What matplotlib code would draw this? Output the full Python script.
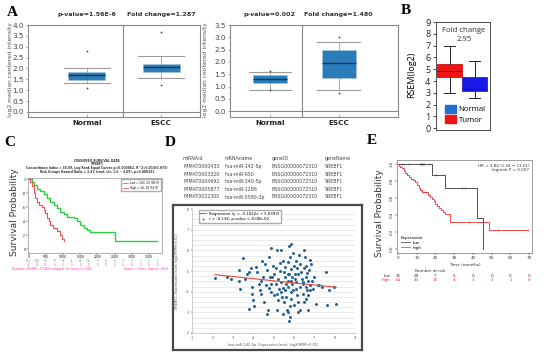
import numpy as np
import matplotlib
matplotlib.use("Agg")
import matplotlib.pyplot as plt
from matplotlib.lines import Line2D
from matplotlib.patches import Patch

W, H = 550, 356

# ---------------- data ----------------
# A: Oncomine box plots
a_groups = ["Normal", "ESCC"]
a1_q1 = [1.45, 1.82]
a1_med = [1.70, 2.05]
a1_q3 = [1.85, 2.22]
a1_lo = [1.32, 1.57]
a1_hi = [2.00, 2.57]
a1_out = [[2.82, 1.10], [3.70, 1.25]]
a1_titles = ["p-value=1.56E-6", "Fold change=1.287"]

a2_q1 = [1.15, 1.37]
a2_med = [1.30, 1.97]
a2_q3 = [1.47, 2.50]
a2_lo = [0.87, 0.87]
a2_hi = [1.60, 2.80]
a2_out = [[1.65, 0.85], [3.00, 0.75]]
a2_titles = ["p-value=0.002", "Fold change=1.480"]

# B: RSEM box plot
b_groups = ["Tumor", "Normal"]
b_q1 = [4.35, 3.15]
b_med = [4.85, 3.35]
b_q3 = [5.40, 4.30]
b_lo = [3.0, 2.6]
b_hi = [7.0, 5.7]

# C: SurvExpress Kaplan-Meier
c_low_t = [0, 97, 146, 243, 340, 437, 534, 631, 728, 825, 922, 1019, 1117, 1311, 1408, 1505, 1602, 1699, 1796, 2524, 3738]
c_low_s = [1.0, 0.97, 0.92, 0.87, 0.83, 0.79, 0.73, 0.68, 0.64, 0.59, 0.54, 0.50, 0.47, 0.45, 0.40, 0.35, 0.31, 0.28, 0.245, 0.127, 0.127]
c_high_t = [0, 49, 97, 146, 194, 243, 291, 388, 437, 485, 534, 583, 631, 709, 825, 922, 971, 1019]
c_high_s = [1.0, 0.97, 0.90, 0.80, 0.73, 0.68, 0.64, 0.61, 0.57, 0.52, 0.45, 0.40, 0.35, 0.31, 0.26, 0.21, 0.15, 0.12]
c_risk_t = [0, 250, 500, 750, 1000, 1250, 1500, 1750, 2000, 2250, 2500, 2750, 3000, 3250, 3500, 3750]
c_risk_low = [136, 120, 98, 78, 57, 41, 28, 16, 9, 8, 6, 4, 3, 2, 1, 1]
c_risk_high = [34, 20, 11, 6, 2, 0, 0, 0, 0, 0, 0, 0, 0, 0, 0, 0]

# D: miRNA table and correlation scatter
d_mirna_id = ["MIMAT0000433", "MIMAT0003320", "MIMAT0004692", "MIMAT0005877", "MIMAT0022300"]
d_mirna_name = ["hsa-miR-142-5p", "hsa-miR-650", "hsa-miR-340-5p", "hsa-miR-1286", "hsa-miR-5590-3p"]
d_gene_id = ["ENSG00000072310"] * 5
d_gene_name = ["SREBF1"] * 5
d_pts_px = [(75, 142), (110, 138), (122, 145), (147, 152), (150, 175), (157, 83), (145, 118), (175, 125),
            (170, 130), (183, 112), (195, 108), (215, 92), (210, 150), (185, 190), (185, 170), (188, 210),
            (175, 235), (190, 228), (210, 190), (208, 180), (220, 215), (222, 100), (230, 118), (235, 80),
            (240, 52), (258, 57), (272, 57), (238, 140), (240, 160), (245, 138), (235, 172), (240, 185),
            (232, 240), (230, 250), (250, 130), (255, 112), (262, 145), (262, 210), (265, 175), (268, 97),
            (270, 185), (275, 200), (278, 92), (282, 138), (285, 160), (283, 180), (290, 95), (293, 45),
            (302, 38), (298, 80), (295, 130), (292, 150), (290, 170), (285, 200), (280, 215), (288, 238),
            (290, 245), (296, 260), (295, 272), (300, 115), (305, 140), (305, 160), (302, 185), (300, 205),
            (308, 68), (310, 105), (312, 130), (315, 155), (315, 175), (318, 195), (320, 215), (325, 72),
            (328, 100), (328, 170), (330, 125), (332, 145), (335, 160), (335, 190), (338, 215), (340, 57),
            (342, 80), (345, 105), (345, 140), (345, 170), (348, 180), (350, 150), (350, 195), (352, 238),
            (355, 118), (358, 87), (360, 100), (358, 165), (362, 152), (365, 175), (368, 140), (375, 220),
            (380, 165), (385, 165), (393, 170), (405, 125), (412, 180), (428, 168), (435, 220), (408, 225),
            (298, 228), (326, 240), (310, 225), (335, 155), (322, 130), (300, 150), (318, 112), (280, 125),
            (255, 160), (268, 120), (250, 195), (225, 165), (218, 140), (200, 125), (205, 160), (165, 145),
            (348, 128), (340, 112), (270, 155), (313, 145), (290, 130), (283, 110), (306, 178), (345, 205),
            (260, 240), (278, 250), (320, 245), (357, 180), (260, 190), (276, 172), (246, 105), (315, 90)]
# values (3x crop), converted to the axis units
d_x = [round(0.901 + p[0] / 60.6, 2) for p in d_pts_px]
d_y = [round(6.942 - p[1] / 62.4, 2) for p in d_pts_px]
d_slope, d_icpt = -0.1022, 5.0393

# E: KM plotter
e_low_t = [0, 18, 25, 42, 45.5]
e_low_s = [1.0, 0.87, 0.72, 0.36, 0.0]
e_low_cens_t = [2.3, 5.8, 11.6, 12.2, 12.8, 13.3, 13.8, 16.4, 20.5, 34, 35.8]
e_low_cens_s = [1.0, 1.0, 1.0, 1.0, 1.0, 1.0, 1.0, 1.0, 0.87, 0.72, 0.72]
e_high_t = [0, 0.5, 1, 2, 3, 4, 5, 6, 7, 8, 9, 10, 11, 12, 13, 16, 17, 18, 19, 20, 21, 22, 23, 24, 25, 28, 48.5, 69.5]
e_high_s = [1.0, 0.98, 0.97, 0.95, 0.92, 0.90, 0.87, 0.85, 0.83, 0.81, 0.79, 0.75, 0.72, 0.69, 0.67, 0.64,
            0.61, 0.59, 0.56, 0.53, 0.51, 0.48, 0.46, 0.44, 0.41, 0.32, 0.22, 0.22]
e_high_cens_t = [12.4, 12.9, 13.5, 14.2, 15.0, 16.4, 38, 53.5, 69.5]
e_high_cens_s = [0.69, 0.69, 0.67, 0.67, 0.67, 0.64, 0.32, 0.22, 0.22]
e_risk_t = [0, 10, 20, 30, 40, 50, 60, 70]
e_risk_low = [31, 29, 7, 5, 0, 0, 0, 0]
e_risk_high = [64, 43, 15, 4, 3, 2, 1, 0]

# ---------------- helpers ----------------
fig = plt.figure(figsize=(W / 100, H / 100), dpi=100)


def px_axes(x0, y0, x1, y1):
    return fig.add_axes([x0 / W, 1 - y1 / H, (x1 - x0) / W, (y1 - y0) / H])


def ftext(x, y, s, **kw):
    fig.text(x / W, 1 - y / H, s, **kw)


def panel_label(x, y, s):
    ftext(x, y, s, fontsize=11, fontweight='bold', family='Liberation Serif', ha='center', va='center')


def onco(rect, q1, med, q3, lo, hi, out, ytop, titles, xlim, div, ylab_x):
    ax = px_axes(*rect)
    stats = [dict(q1=q1[i], med=med[i], q3=q3[i], whislo=lo[i], whishi=hi[i], fliers=out[i]) for i in range(2)]
    ax.bxp(stats, positions=[0, 1], widths=0.5, capwidths=0.62, patch_artist=True, manage_ticks=False,
           boxprops=dict(facecolor='#2a7db8', edgecolor='#a9c3d6', lw=0.5),
           medianprops=dict(color='#0b3a63', lw=1.0),
           whiskerprops=dict(color='#9a9a9a', lw=0.6),
           capprops=dict(color='#9a9a9a', lw=0.8),
           flierprops=dict(marker='o', ms=1.3, mfc='#444', mec='none'))
    ax.axhline(0, color='#888', lw=0.8)
    ax.axvline(div, color='#888', lw=0.8)
    ax.set_xlim(xlim)
    ax.set_ylim(-0.23, ytop)
    yt = np.arange(0, ytop + 0.01, 0.5)
    ax.set_yticks(yt)
    ax.set_yticklabels([f"{v:.1f}" for v in yt], fontsize=5.2, color='#444')
    ax.set_xticks([0, 1])
    ax.set_xticklabels(a_groups, fontsize=5.2, fontweight='bold', color='#222')
    ax.tick_params(axis='y', length=1.5, width=0.5, color='#888', pad=1.5)
    ax.tick_params(axis='x', direction='in', length=2, width=0.5, color='#888', pad=2)
    for s in ax.spines.values():
        s.set_color('#888')
        s.set_linewidth(0.8)
    for i, t in enumerate(titles):
        ax.text(i, 1.11, t, transform=ax.get_xaxis_transform(), ha='center', va='center',
                fontsize=4.6, fontweight='bold', color='#333')
    ftext(ylab_x, 70, "log2 median centered intensity", rotation=90, fontsize=4.3, color='#555',
          ha='center', va='center')
    return ax


# ---------------- panel A ----------------
panel_label(12, 13, "A")
onco((28, 25, 200, 117), a1_q1, a1_med, a1_q3, a1_lo, a1_hi, a1_out, 4.0, a1_titles,
     (-0.79, 1.52), 0.48, 11)
onco((230, 25, 398, 117), a2_q1, a2_med, a2_q3, a2_lo, a2_hi, a2_out, 3.5, a2_titles,
     (-0.58, 1.86), 0.46, 205)

# ---------------- panel B ----------------
panel_label(406, 10, "B")
axb = px_axes(436, 22, 490, 130)
b_stats = [dict(q1=b_q1[i], med=b_med[i], q3=b_q3[i], whislo=b_lo[i], whishi=b_hi[i], fliers=[])
           for i in range(2)]
bp = axb.bxp(b_stats, positions=[0, 1], widths=1.0, capwidths=0.45, patch_artist=True, manage_ticks=False,
             medianprops=dict(color='#222', lw=0.7),
             whiskerprops=dict(color='#222', lw=0.7), capprops=dict(color='#222', lw=0.7))
for patch, fc, ec in zip(bp['boxes'], ['#f01414', '#1a1ae6'], ['#c00000', '#1010b0']):
    patch.set_facecolor(fc)
    patch.set_edgecolor(ec)
    patch.set_linewidth(0.5)
axb.set_xlim(-0.54, 1.62)
axb.set_ylim(-0.15, 8.95)
axb.set_yticks(range(10))
axb.set_yticklabels([str(v) for v in range(10)], fontsize=6.5, family='Open Sans', color='#222')
axb.set_xticks([])
axb.tick_params(axis='y', length=2.5, width=0.5, pad=1.5)
for s in axb.spines.values():
    s.set_linewidth(0.6)
    s.set_color('#333')
axb.text(0.52, 0.95, "Fold change\n2.95", transform=axb.transAxes, ha='center', va='top',
         fontsize=5.6, family='Open Sans', color='#333', linespacing=1.3)
axb.legend([Patch(facecolor='#1f6fce', edgecolor='#1f6fce'), Patch(facecolor='#f01414', edgecolor='#f01414')],
           ["Normal", "Tumor"], loc='lower left', bbox_to_anchor=(0.06, 0.0), frameon=False,
           prop=dict(family='Open Sans', size=5.6), handlelength=1.3, handleheight=1.1,
           handletextpad=0.4, labelspacing=0.25, borderpad=0.3)
ftext(412, 75, "RSEM(log2)", rotation=90, fontsize=6.5, family='Open Sans', ha='center', va='center')

# ---------------- panel C ----------------
panel_label(10, 143, "C")
axc = px_axes(28, 178, 162, 253)
axc.step(c_low_t, c_low_s, where='post', color='#2ecc40', lw=1.0)
axc.step(c_high_t, c_high_s, where='post', color='#f05050', lw=0.8)
axc.set_xlim(-20, 3880)
axc.set_ylim(-0.05, 1.02)
axc.set_xticks(range(0, 3501, 500))
axc.set_xticklabels([str(v) for v in range(0, 3501, 500)], fontsize=2.2)
axc.set_yticks([0, 0.2, 0.4, 0.6, 0.8, 1.0])
axc.set_yticklabels(["0", ".2", ".4", ".6", ".8", "1"], fontsize=2.2)
axc.tick_params(length=1.2, width=0.3, pad=0.6)
for s in axc.spines.values():
    s.set_linewidth(0.4)
    s.set_color('#777')
axc.legend([Line2D([], [], color='#2ecc40', lw=0.6), Line2D([], [], color='#f05050', lw=0.6)],
           ["Low = 143, 23 (83.9)", "High = 34, 18 (52.9)"], loc='upper right', fontsize=2,
           frameon=True, edgecolor='#999', fancybox=False, handlelength=2, borderpad=0.4)
tr = axc.get_xaxis_transform()
for t, lo, hi in zip(c_risk_t, c_risk_low, c_risk_high):
    axc.text(t, -0.105, str(lo), transform=tr, fontsize=2.0, color='#2ecc40', ha='center', va='center')
    axc.text(t, -0.16, str(hi), transform=tr, fontsize=2.0, color='#f05050', ha='center', va='center')
ctitle = ["CENSORED SURVIVAL DATA", "SREBP1",
          "Concordance Index = 38.09, Log Rank Equal Curves p=0.000862, R^2=0.013(0.973)",
          "Risk Groups Hazard Ratio = 2.42 (conf. int. 1.5 ~ 4.09), p=0.000332"]
for i, s in enumerate(ctitle):
    ftext(97, 160.5 + 3.8 * i, s, fontsize=2.2, fontweight='bold', ha='center', va='center', color='#333')
ftext(12, 269, "Database: SREBF1 - TCGA Esophageal Carcinoma (n=184)", fontsize=2.0, color='#ff33cc', va='center')
ftext(168, 269, "Lowest = Green, Highest = Red", fontsize=2.0, color='#ff33cc', va='center', ha='right')
ftext(15, 212, "Survival Probability", rotation=90, fontsize=6.5, color='#333', ha='center', va='center')

# ---------------- panel D ----------------
panel_label(170, 143, "D")
cols_x = [183, 225, 272, 325]
for x, s in zip(cols_x, ["miRNAid", "mRNAname", "geneID", "geneName"]):
    ftext(x, 159, s, fontsize=3.4, color='#444', va='center')
for r in range(len(d_mirna_id)):
    y = 166.6 + 7.6 * r
    for x, s in zip(cols_x, [d_mirna_id[r], d_mirna_name[r], d_gene_id[r], d_gene_name[r]]):
        ftext(x, y, s, fontsize=3.4, color='#444', va='center')

frame = px_axes(173, 205, 362, 350)
frame.set_xticks([])
frame.set_yticks([])
for s in frame.spines.values():
    s.set_linewidth(1.6)
    s.set_color('#4a4a4a')

axd = px_axes(192, 208, 355, 333)
axd.set_xlim(1, 9)
axd.set_ylim(2, 8.05)
for yy in np.arange(2.25, 8.0, 0.25):
    axd.axhline(yy, color='#dcdcdc', lw=0.4, zorder=0)
axd.scatter(d_x, d_y, s=4.5, color='#1f5f8f', lw=0, zorder=3)
xr = np.array([min(d_x), max(d_x)])
axd.plot(xr, d_slope * xr + d_icpt, color='#e8473e', lw=0.8, zorder=4)
axd.set_xticks(range(1, 10))
axd.set_xticklabels([str(v) for v in range(1, 10)], fontsize=2.5, color='#555')
axd.set_yticks(range(2, 9))
axd.set_yticklabels([str(v) for v in range(2, 9)], fontsize=2.5, color='#555')
axd.tick_params(length=1, width=0.3, pad=1.5)
for k in ['top', 'right']:
    axd.spines[k].set_visible(False)
for k in ['left', 'bottom']:
    axd.spines[k].set_linewidth(0.4)
    axd.spines[k].set_color('#aaa')
axd.legend([Line2D([], [], color='#3c6fb0', lw=0.6),
            Line2D([], [], color='none', marker='o', mfc='#2e9e3e', mec='none', ms=1.5)],
           ["Regression (y = -0.1022x + 5.0393)", "r = -0.136, p-value = 8.08e-02"],
           loc='upper left', bbox_to_anchor=(0.03, 1.0), fontsize=2.8, frameon=True, fancybox=False,
           edgecolor='#999', handlelength=1.5, borderpad=0.4, labelspacing=0.4)
ftext(273, 345, "hsa-miR-142-5p, Expression level: log2(RPM+0.01)", fontsize=2.5, color='#555',
      ha='center', va='center')
ftext(177, 271, "SREBF1, Expression level: log2(RPM+0.01)", fontsize=2.5, color='#555',
      rotation=90, ha='center', va='center')

# ---------------- panel E ----------------
panel_label(372, 140, "E")
axe = px_axes(397, 160, 532, 253)
axe.step(e_low_t, e_low_s, where='post', color='#333', lw=0.6)
axe.step(e_high_t, e_high_s, where='post', color='#e83030', lw=0.6)
axe.plot(e_low_cens_t, e_low_cens_s, ls='none', marker='|', ms=2, mew=0.4, color='#333')
axe.plot(e_high_cens_t, e_high_cens_s, ls='none', marker='|', ms=2, mew=0.4, color='#e83030')
axe.set_xlim(-0.5, 71.5)
axe.set_ylim(-0.05, 1.05)
axe.set_xticks(e_risk_t)
axe.set_xticklabels([str(v) for v in e_risk_t], fontsize=3, color='#333')
axe.set_yticks([0, 0.2, 0.4, 0.6, 0.8, 1.0])
axe.set_yticklabels(["0.0", "0.2", "0.4", "0.6", "0.8", "1.0"], fontsize=3, color='#333', rotation=90,
                    va='center')
axe.tick_params(length=1.2, width=0.3, pad=1)
for s in axe.spines.values():
    s.set_linewidth(0.4)
    s.set_color('#555')
axe.text(0.98, 0.96, "HR = 3.84 (1.34 \u2212 11.01)\nlogrank P = 0.007", transform=axe.transAxes,
         ha='right', va='top', fontsize=3, color='#333', linespacing=1.2)
axe.legend([Line2D([], [], color='#333', lw=0.5), Line2D([], [], color='#e83030', lw=0.5)],
           ["low", "high"], title="Expression", loc='lower left', fontsize=3, title_fontsize=3,
           frameon=False, handlelength=2, borderpad=0.3, labelspacing=0.2)
axe.set_xlabel("Time (months)", fontsize=3.2, color='#333', labelpad=2)
tre = axe.get_xaxis_transform()
axe.text(0.13, -0.19, "Number at risk", transform=axe.transAxes, fontsize=3, color='#333', va='center')
axe.text(-4, -0.245, "low", transform=tre, fontsize=3, color='#333', ha='right', va='center')
axe.text(-4, -0.29, "high", transform=tre, fontsize=3, color='#e83030', ha='right', va='center')
for t, lo, hi in zip(e_risk_t, e_risk_low, e_risk_high):
    axe.text(t, -0.245, str(lo), transform=tre, fontsize=3, color='#333', ha='center', va='center')
    axe.text(t, -0.29, str(hi), transform=tre, fontsize=3, color='#e83030', ha='center', va='center')
ftext(380, 213, "Survival Probability", rotation=90, fontsize=6.5, color='#333', ha='center', va='center')

fig.savefig("out.png", dpi=100)
